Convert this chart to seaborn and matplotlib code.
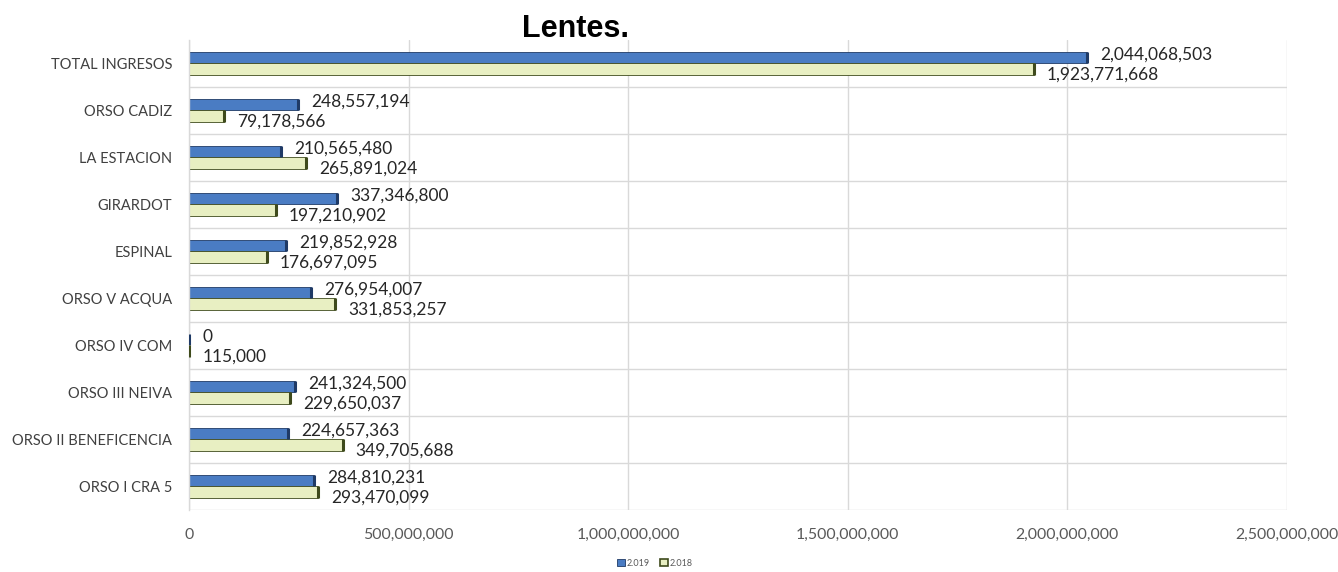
import matplotlib
matplotlib.use("Agg")
import matplotlib.pyplot as plt
from matplotlib.patches import Patch
from matplotlib.ticker import FuncFormatter, FixedLocator
import pandas as pd
import seaborn as sns

categorias = [
    "TOTAL INGRESOS", "ORSO CADIZ", "LA ESTACION", "GIRARDOT", "ESPINAL",
    "ORSO V ACQUA", "ORSO IV COM", "ORSO III NEIVA", "ORSO II BENEFICENCIA",
    "ORSO I CRA 5",
]
valores_2019 = [2044068503, 248557194, 210565480, 337346800, 219852928,
                276954007, 0, 241324500, 224657363, 284810231]
valores_2018 = [1923771668, 79178566, 265891024, 197210902, 176697095,
                331853257, 115000, 229650037, 349705688, 293470099]
series = ["2.019", "2.018"]
x_ticks = [0, 500000000, 1000000000, 1500000000, 2000000000, 2500000000]

df = pd.DataFrame({
    "categoria": categorias * 2,
    "valor": valores_2019 + valores_2018,
    "año": [series[0]] * len(categorias) + [series[1]] * len(categorias),
})

sns.set_theme(style="white")
plt.rcParams["font.family"] = ["Lato", "DejaVu Sans"]

AZUL = "#4A7CC3"
AZUL_BORDE = "#1F3A66"
VERDE = "#E8EFC2"
VERDE_BORDE = "#3E4A1C"

fig = plt.figure(figsize=(13.38, 5.72), dpi=100)
ax = fig.add_axes([189 / 1338, 1 - 510 / 572, (1287 - 189) / 1338, 470 / 572])

sns.barplot(data=df, y="categoria", x="valor", hue="año", orient="h",
            order=categorias, hue_order=series, palette=[AZUL, VERDE],
            width=0.47, legend=False, ax=ax, saturation=1)

# dark rim around each bar plus a heavier end cap
for cont, borde in zip(ax.containers, [AZUL_BORDE, VERDE_BORDE]):
    for p in cont:
        p.set_edgecolor(borde)
        p.set_linewidth(0.6)
        x1 = p.get_x() + p.get_width()
        y0, h = p.get_y(), p.get_height()
        ax.plot([x1, x1], [y0, y0 + h], color=borde, lw=2.2,
                solid_capstyle="butt", zorder=3)

# value labels: 2019 slightly above its bar, 2018 slightly below its bar
for cont, vals, dy in zip(ax.containers, [valores_2019, valores_2018], [2.5, -4]):
    for p, v in zip(cont, vals):
        x1 = p.get_x() + p.get_width()
        yc = p.get_y() + p.get_height() / 2
        ax.annotate(f"{v:,}", xy=(x1, yc), xytext=(9.5, dy),
                    textcoords="offset points", ha="left", va="center",
                    fontsize=12.5, color="#262626")

ax.set_xlim(0, 2500000000)
ax.set_ylim(len(categorias) - 0.5, -0.5)
ax.xaxis.set_major_locator(FixedLocator(x_ticks))
ax.xaxis.set_major_formatter(FuncFormatter(lambda v, _: f"{int(v):,}"))
ax.tick_params(axis="x", length=0, pad=13, labelsize=11.4, labelcolor="#595959")
ax.tick_params(axis="y", length=0, pad=12, labelsize=10.5, labelcolor="#404040")
ax.set_xlabel("")
ax.set_ylabel("")

# grid: vertical at ticks, horizontal between categories
ax.set_yticks([i + 0.5 for i in range(len(categorias))], minor=True)
ax.grid(axis="x", which="major", color="#D9D9D9", lw=1)
ax.grid(axis="y", which="minor", color="#D9D9D9", lw=1)
ax.tick_params(axis="y", which="minor", length=0)
ax.set_axisbelow(True)
for s in ["top", "right", "bottom"]:
    ax.spines[s].set_visible(False)
ax.spines["left"].set_color("#D9D9D9")
ax.spines["left"].set_linewidth(1)

fig.text(576 / 1338, 1 - 37 / 572, "Lentes.", ha="center", va="baseline",
         fontsize=22, fontweight="bold", family=["Liberation Sans", "DejaVu Sans"],
         color="black")

handles = [Patch(facecolor=AZUL, edgecolor=AZUL_BORDE, lw=0.6),
           Patch(facecolor=VERDE, edgecolor=VERDE_BORDE, lw=1.2)]
fig.legend(handles, series, loc="center", bbox_to_anchor=(655 / 1338, 1 - 563 / 572),
           ncol=2, frameon=False, fontsize=6.5, handlelength=0.8, handleheight=0.8,
           handletextpad=0.2, columnspacing=1.2, labelcolor="#595959")

fig.savefig("out.png", dpi=100, facecolor="white")
